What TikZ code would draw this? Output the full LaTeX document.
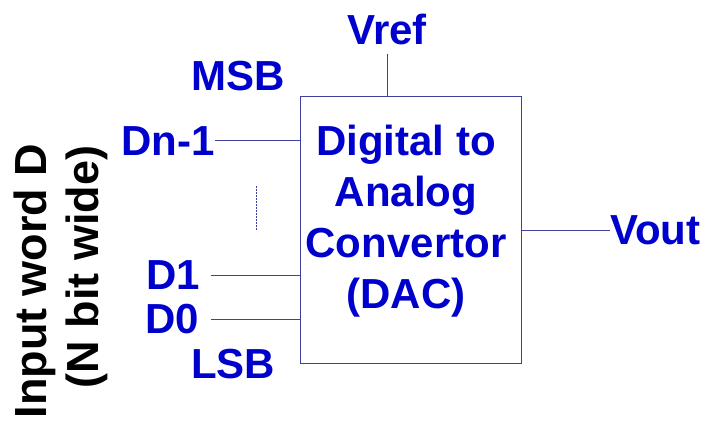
\documentclass[tikz,border=0pt]{standalone}
\usepackage{fontspec}
\setmainfont{Liberation Sans}
\definecolor{txtblue}{RGB}{0,0,204}
\definecolor{wireblue}{RGB}{64,64,160}
\begin{document}
\begin{tikzpicture}[x=1pt,y=-1pt,
  lbl/.style={text=txtblue,font=\fontsize{42}{51}\selectfont\bfseries,inner sep=0pt},
  side/.style={font=\fontsize{45}{50}\selectfont\bfseries,rotate=90,anchor=base,inner sep=0pt},
  wire/.style={draw=wireblue,line width=1pt}]
\useasboundingbox (0,0) rectangle (708,422);
\node[wire,minimum width=221pt,minimum height=266pt,inner sep=0pt] (dac) at (410.5,230) {};
\node[lbl,align=center] (dactxt) at (406,221) {Digital to\\Analog\\Convertor\\(DAC)};
\node[lbl,anchor=base] (vref) at (387,45) {Vref}; \draw[wire] ([yshift=-8pt]vref.south) -- (vref.south |- dac.north);
\node[lbl] (msb) at (238,76) {MSB};
\node[lbl,anchor=east] (dn1) at (215,141) {Dn-1}; \draw[wire] (dn1.east) -- (dn1.east -| dac.west);
\node[lbl,anchor=east] (d1) at (200,275) {D1}; \draw[wire] ([xshift=11pt]d1.east) -- (d1.east -| dac.west);
\node[lbl,anchor=east] (d0) at (199,319) {D0}; \draw[wire] ([xshift=12pt]d0.east) -- (d0.east -| dac.west);
\node[lbl] (lsb) at (233,364) {LSB};
\coordinate (dtop) at (256,186); \coordinate (dbot) at (256,231);
\draw[wire,dash pattern=on 1.5pt off 1.5pt] (dtop) -- (dbot);
\node[lbl,anchor=west] (vout) at (610,230) {Vout}; \draw[wire] (vout.west -| dac.east) -- (vout.west);
\node[side] (inword) at (46,281) {Input word D};
\node[side] (nbit) at (98,267) {(N bit wide)};
\end{tikzpicture}
\end{document}
